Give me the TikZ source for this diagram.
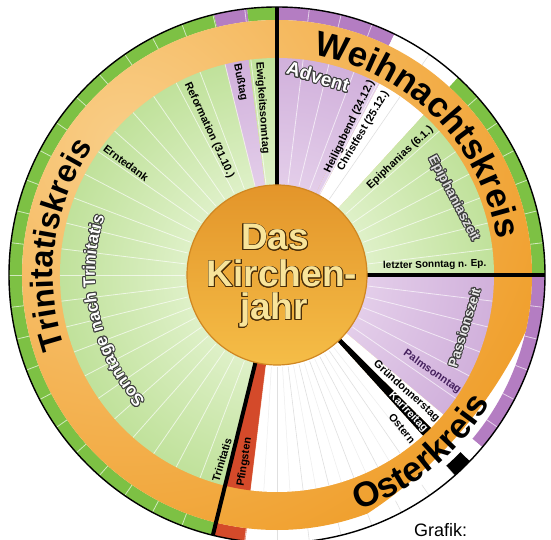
\documentclass[tikz,border=0pt]{standalone}
\usepackage{fontspec}
\setmainfont{Liberation Sans}
\usepackage{contour}
\contourlength{0.9pt}
\usetikzlibrary{decorations.text}

\definecolor{gOut}{HTML}{8CC84E}
\definecolor{gIn}{HTML}{F4FBE8}
\definecolor{pOut}{HTML}{B27FC4}
\definecolor{pIn}{HTML}{F0E2F3}
\definecolor{lav}{HTML}{E2CDEA}
\definecolor{ringG}{HTML}{7DC144}
\definecolor{ringP}{HTML}{B47DC2}
\definecolor{orng}{HTML}{F0A02E}
\definecolor{orngL}{HTML}{F9CE88}
\definecolor{redP}{HTML}{D44A2A}
\definecolor{coinTop}{HTML}{E3952A}
\definecolor{coinBot}{HTML}{F5BD47}
\definecolor{coinRim}{HTML}{D08722}
\definecolor{coinTxt}{HTML}{F8E49A}
\definecolor{coinOut}{HTML}{4A2E08}
\definecolor{outlc}{HTML}{3C3C3C}
\definecolor{palm}{HTML}{45205E}

\newcommand\ringsec[5]{\fill[#5] (#1:#3) arc[start angle=#1, end angle=#2, radius=#3] -- (#2:#4) arc[start angle=#2, end angle=#1, radius=#4] -- cycle;}
\newcommand\wedgesec[4]{\begin{scope}\clip (0,0) -- (#1:217) arc[start angle=#1, end angle=#2, radius=217] -- cycle;
  \shade[inner color=#3, outer color=#4] (0,0) circle[radius=434];\end{scope}}
\newcommand\flatsec[3]{\fill[#3] (0,0) -- (#1:217) arc[start angle=#1, end angle=#2, radius=217] -- cycle;}

\newcommand\kreisfont{\fontsize{35}{35}\selectfont\bfseries}
\newcommand\trinfont{\fontsize{32}{32}\selectfont\bfseries}
\newcommand\sontfont{\fontsize{17}{17}\selectfont\bfseries}

\tikzset{
  weekline/.style={white, line width=0.8pt, opacity=0.65},
  faintline/.style={black!12, line width=0.6pt},
  divider/.style={black, line width=4pt},
  lbl/.style={font=\fontsize{10.8}{10.8}\selectfont\bfseries, inner sep=0pt},
  outlbl/.style={font=\fontsize{13.5}{13.5}\selectfont\bfseries, inner sep=0pt, text=white},
  cointext/.style={font=\fontsize{37}{35}\selectfont\bfseries, inner sep=0pt, text=coinTxt, anchor=base},
}

\begin{document}
\begin{tikzpicture}[x=1pt,y=1pt]
\useasboundingbox[fill=white] (-277,-265) rectangle (274,275);

% outer thin ring
\ringsec{90}{64}{255}{268}{ringP}
\ringsec{64}{47.5}{255}{268}{white}
\ringsec{47.5}{0}{255}{268}{ringG}
\ringsec{0}{-40}{255}{268}{ringP}
\ringsec{-40}{-44}{255}{268}{white}
\ringsec{-44}{-48.5}{255}{268}{black}
\ringsec{-48.5}{-96.8}{255}{268}{white}
\ringsec{-96.8}{-103.85}{255}{268}{redP}
\ringsec{-103.85}{-256.4}{255}{268}{ringG}
\ringsec{103.6}{96.4}{255}{268}{ringP}
\ringsec{96.4}{90}{255}{268}{ringG}
\foreach \k in {1,...,51}
  \draw[weekline] ({90-\k*6.923077}:255) -- ({90-\k*6.923077}:268);
\foreach \k in {5,21,22,23,24,25,26}
  \draw[faintline] ({90-\k*6.923077}:255) -- ({90-\k*6.923077}:268);

% orange ring
\begin{scope}
  \clip (0,0) circle[radius=255];
  \shade[inner color=orngL, outer color=orng] (-150,130) circle[radius=440];
\end{scope}

% inner wedges
\wedgesec{90}{64.5}{pIn}{pOut}
\flatsec{64.5}{61.8}{lav}
\flatsec{61.8}{47.5}{white}
\wedgesec{47.5}{0}{gIn}{gOut}
\wedgesec{0}{-40}{pIn}{pOut}
\flatsec{-40}{-44.8}{white}
\flatsec{-44.8}{-47.8}{black}
\flatsec{-47.8}{-97}{white}
\flatsec{-97}{-103.85}{redP}
\wedgesec{-103.85}{-256.15}{gIn}{gOut}
\wedgesec{103.85}{97.5}{pIn}{pOut}
\wedgesec{97.5}{90}{gIn}{gOut}
\foreach \k in {1,...,51}
  \draw[weekline] ({90-\k*6.923077}:92) -- ({90-\k*6.923077}:217);
\foreach \k in {5,21,22,23,24,25,26}
  \draw[faintline] ({90-\k*6.923077}:92) -- ({90-\k*6.923077}:217);
\foreach \k in {20,...,26}
  \draw[black!7, line width=0.5pt] ({86.5-\k*6.923077}:92) -- ({86.5-\k*6.923077}:217);

% dividers and outline
\draw[divider] (90:86) -- (90:268);
\draw[divider] (0:86) -- (0:268);
\draw[divider] (-103.85:86) -- (-103.85:268);
\draw[black, line width=1.4pt] (0,0) circle[radius=268];

% centre coin
\node[circle, minimum size=180pt, inner sep=0pt, top color=coinTop, bottom color=coinBot, draw=coinRim, line width=1.2pt] (coin) at (0,0) {};
\node[cointext] (das) at (-2,25) {\contour{coinOut}{Das}};
\node[cointext] (kirchen) at (5,-12) {\contour{coinOut}{Kirchen-}};
\node[cointext] (jahr) at (-3,-45) {\contour{coinOut}{jahr}};

% big curved labels
\path[decorate, decoration={text along path, text align=center, text={|\kreisfont|Weihnachtskreis}}]
  (88:223) arc[start angle=88, end angle=2, radius=223];
\path[decorate, decoration={text along path, text align=center, text={|\trinfont|Trinitatiskreis}}]
  (215:224) arc[start angle=215, end angle=129, radius=224];
\path[decorate, decoration={text along path, text align=center, text={|\kreisfont|Osterkreis}}]
  (-82:249) arc[start angle=-82, end angle=-20, radius=249];

% Sonntage nach Trinitatis (outlined, curved)
\foreach \a in {0,30,...,330}
  \path[shift={(\a:0.9)}, decorate, decoration={text along path, text align=center, text={|\color{outlc}\sontfont|Sonntage nach Trinitatis}}]
    (236:182) arc[start angle=236, end angle=149, radius=182];
\path[decorate, decoration={text along path, text align=center, text={|\color{white}\sontfont|Sonntage nach Trinitatis}}]
  (236:182) arc[start angle=236, end angle=149, radius=182];

% small labels
\node[lbl, rotate=-86] (ewig) at (95:168) {Ewigkeitssonntag};
\node[lbl, rotate=-79] (buss) at (100.8:196) {Bußtag};
\node[lbl, rotate=-65] (ref) at (115.1:160) {Reformation (31.10.)};
\node[lbl, rotate=-36.6] (ernte) at (143.4:188) {Erntedank};
\node[lbl, rotate=64] (heilig) at (63.9:165) {Heiligabend (24.12.)};
\node[lbl, rotate=59.5] (christ) at (59.1:168) {Christfest (25.12.)};
\node[lbl, rotate=43] (epi) at (43.6:170) {Epiphanias (6.1.)};
\node[lbl, font=\fontsize{10}{10}\selectfont\bfseries, rotate=1.5] (letzter) at (3.6:158) {letzter Sonntag n. Ep.};
\node[lbl, rotate=-35, text=palm] (palmt) at (-32:183) {Palmsonntag};
\node[lbl, rotate=-42] (gruen) at (-41.9:174) {Gründonnerstag};
\node[lbl, rotate=-46.3, text=white] (kar) at (-46.3:190) {Karfreitag};
\node[lbl, rotate=-50.5] (ostern) at (-50.8:198) {Ostern};
\node[lbl, rotate=73.4] (trin) at (-106.6:193) {Trinitatis};
\node[lbl, rotate=81.2] (pfing) at (-99.8:190) {Pfingsten};

% outlined straight labels
\node[outlbl, font=\fontsize{19}{19}\selectfont\bfseries, rotate=-17] (advent) at (78.3:202) {\contour{outlc}{Advent}};
\node[outlbl, text=white!88!black, rotate=-62] (epizeit) at (23.4:192) {\contour{outlc}{Epiphaniaszeit}};
\node[outlbl, text=white!92!black, rotate=73] (passion) at (-15.7:195) {\contour{outlc}{Passionszeit}};

% credit
\node[font=\fontsize{18}{18}\selectfont, anchor=base west, inner sep=0pt] (grafik) at (137,-261) {Grafik:};
\end{tikzpicture}
\end{document}
